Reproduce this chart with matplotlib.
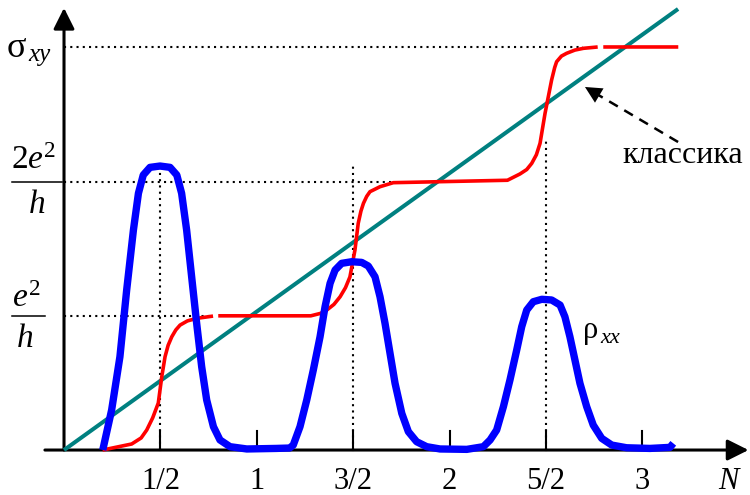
import numpy as np
import matplotlib
matplotlib.use("Agg")
import matplotlib.pyplot as plt

plt.rcParams["font.family"] = "serif"
plt.rcParams["font.serif"] = ["Liberation Serif", "DejaVu Serif"]
plt.rcParams["mathtext.fontset"] = "custom"
plt.rcParams["mathtext.rm"] = "Liberation Serif"
plt.rcParams["mathtext.it"] = "Liberation Serif:italic"

# filling factor N and conductance in units of e^2/h
tick_values = [0.5, 1, 1.5, 2, 2.5, 3]
tick_labels = ["1/2", "1", "3/2", "2", "5/2", "3"]

# classical Hall conductance (straight line)
classic_n = [0.0, 3.185]
classic_sigma = [0.0, 3.286]

# quantum Hall plateaus sigma_xy (NaN = small breaks in the drawn line)
sigma_n = [0.20, 0.351, 0.400, 0.429, 0.460, 0.489, 0.507, 0.524, 0.540, 0.559,
           0.580, 0.602, 0.640, 0.688, 0.773, np.nan, 0.800, 1.28, 1.330, 1.363,
           1.400, 1.432, 1.460, 1.483, 1.509, 1.526, 1.540, 1.553, 1.570, 1.587,
           1.639, 1.708, 2.30, 2.365, 2.400, 2.426, 2.450, 2.469, 2.495, 2.512,
           2.529, 2.545, 2.555, 2.580, 2.607, 2.650, 2.694, 2.768, np.nan, 2.797,
           3.186]
sigma_xy = [0.0, 0.045, 0.090, 0.149, 0.240, 0.35, 0.546, 0.695, 0.780, 0.844,
            0.895, 0.931, 0.962, 0.981, 0.998, np.nan, 1.0, 1.0, 1.018, 1.043,
            1.085, 1.142, 1.210, 1.29, 1.49, 1.689, 1.780, 1.838, 1.890, 1.925,
            1.962, 1.992, 2.01, 2.057, 2.090, 2.136, 2.200, 2.285, 2.509, 2.633,
            2.757, 2.850, 2.893, 2.935, 2.956, 2.980, 2.993, 3.003, np.nan, 3.003,
            3.003]

# longitudinal resistance rho_xx peaks
rho_n = [0.201, 0.247, 0.290, 0.325, 0.360, 0.386, 0.411, 0.446, 0.498, 0.550,
         0.585, 0.610, 0.636, 0.662, 0.688, 0.714, 0.740, 0.775, 0.809, 0.861,
         0.948, 1.10, 1.17, 1.189, 1.224, 1.259, 1.293, 1.328, 1.354, 1.380,
         1.406, 1.440, 1.492, 1.544, 1.578, 1.613, 1.639, 1.665, 1.691, 1.717,
         1.752, 1.786, 1.829, 1.881, 1.950, 2.089, 2.175, 2.210, 2.244, 2.279,
         2.313, 2.348, 2.374, 2.400, 2.434, 2.478, 2.529, 2.573, 2.598, 2.624,
         2.650, 2.676, 2.711, 2.745, 2.789, 2.841, 2.918, 3.039, 3.143, 3.160]
rho_xx = [0.0, 0.298, 0.695, 1.192, 1.639, 1.913, 2.049, 2.106, 2.116, 2.106,
          2.049, 1.913, 1.639, 1.291, 0.944, 0.621, 0.373, 0.174, 0.075, 0.025,
          0.008, 0.012, 0.015, 0.037, 0.174, 0.373, 0.596, 0.844, 1.068, 1.242,
          1.341, 1.391, 1.403, 1.398, 1.371, 1.291, 1.142, 0.944, 0.720, 0.497,
          0.273, 0.137, 0.062, 0.025, 0.008, 0.005, 0.025, 0.075, 0.149, 0.323,
          0.522, 0.745, 0.919, 1.043, 1.105, 1.123, 1.118, 1.080, 0.993, 0.844,
          0.671, 0.497, 0.323, 0.186, 0.087, 0.037, 0.017, 0.012, 0.020, 0.050]

# dotted guide lines: horizontal (level, end N) and vertical (N, top)
guide_levels = [1, 2, 3]
guide_level_ends = [0.78, 1.70, 2.69]
guide_n = [0.5, 1.5, 2.5]
guide_n_tops = [2.09, 2.12, 2.30]

fig = plt.figure(figsize=(7.5, 4.95), dpi=100)
ax = fig.add_axes([0, 0, 1, 1])
ax.set_xlim(-0.332, 3.558)
ax.set_ylim(-0.335, 3.353)
ax.axis("off")

# dotted guides
for lev, end in zip(guide_levels, guide_level_ends):
    ax.plot([0, end], [lev, lev], color="black", lw=1.5, ls=(0, (1, 2)), zorder=1)
for n, top in zip(guide_n, guide_n_tops):
    ax.plot([n, n], [0, top], color="black", lw=1.5, ls=(0, (1, 2)), zorder=1)

# axes with arrows
arrow_style = dict(arrowstyle="-|>,head_length=0.4,head_width=0.2",
                   mutation_scale=32, lw=2.2, color="black", shrinkA=0, shrinkB=0)
ax.annotate("", xy=(3.55, 0), xytext=(-0.099, 0), arrowprops=arrow_style, zorder=2)
ax.annotate("", xy=(0, 3.294), xytext=(0, 0), arrowprops=arrow_style, zorder=2)

# ticks and tick labels
for t, lab in zip(tick_values, tick_labels):
    ax.plot([t, t], [0, 0.142], color="black", lw=1.5, zorder=2)
    ax.text(t, -0.29, lab, ha="center", va="baseline", fontsize=22)
ax.text(3.444, -0.29, "N", ha="center", va="baseline", fontsize=22, style="italic")

# curves
ax.plot(classic_n, classic_sigma, color="#008080", lw=2.9, zorder=3,
        solid_capstyle="butt")
ax.plot(sigma_n, sigma_xy, color="#ff0000", lw=2.6, zorder=4,
        solid_joinstyle="round", solid_capstyle="butt")
ax.plot(rho_n, rho_xx, color="#0000ff", lw=5.3, zorder=5,
        solid_joinstyle="round", solid_capstyle="butt")

# y labels
ax.text(-0.296, 2.928, "σ", ha="left", va="baseline", fontsize=26)
ax.text(-0.187, 2.899, "xy", ha="left", va="baseline", fontsize=18, style="italic")

ax.text(-0.159, 2.094, r"$\mathrm{2}\mathit{e}^{\mathrm{2}}$", ha="center",
        va="baseline", fontsize=24)
ax.plot([-0.270, -0.010], [1.997, 1.997], color="black", lw=1.1, clip_on=False)
ax.text(-0.140, 1.766, "h", ha="center", va="baseline", fontsize=24, style="italic")

ax.text(-0.195, 1.066, r"$\mathit{e}^{\mathrm{2}}$", ha="center",
        va="baseline", fontsize=24)
ax.plot([-0.270, -0.099], [1.0, 1.0], color="black", lw=1.1, clip_on=False)
ax.text(-0.202, 0.768, "h", ha="center", va="baseline", fontsize=24, style="italic")

# rho_xx label
ax.text(2.692, 0.835, "ρ", ha="left", va="baseline", fontsize=22)
ax.text(2.780, 0.797, "xx", ha="left", va="baseline", fontsize=16, style="italic")

# classical label with dashed arrow
ax.plot([3.185, 2.76], [2.295, 2.655], color="black", lw=1.8, ls=(0, (4, 3)))
ax.annotate("", xy=(2.702, 2.705), xytext=(2.78, 2.638),
            arrowprops=dict(arrowstyle="-|>,head_length=0.5,head_width=0.25",
                            mutation_scale=24, lw=0, color="black",
                            shrinkA=0, shrinkB=0))
ax.text(2.894, 2.139, "классика", ha="left", va="baseline", fontsize=23)

fig.savefig("out.png", dpi=100)
